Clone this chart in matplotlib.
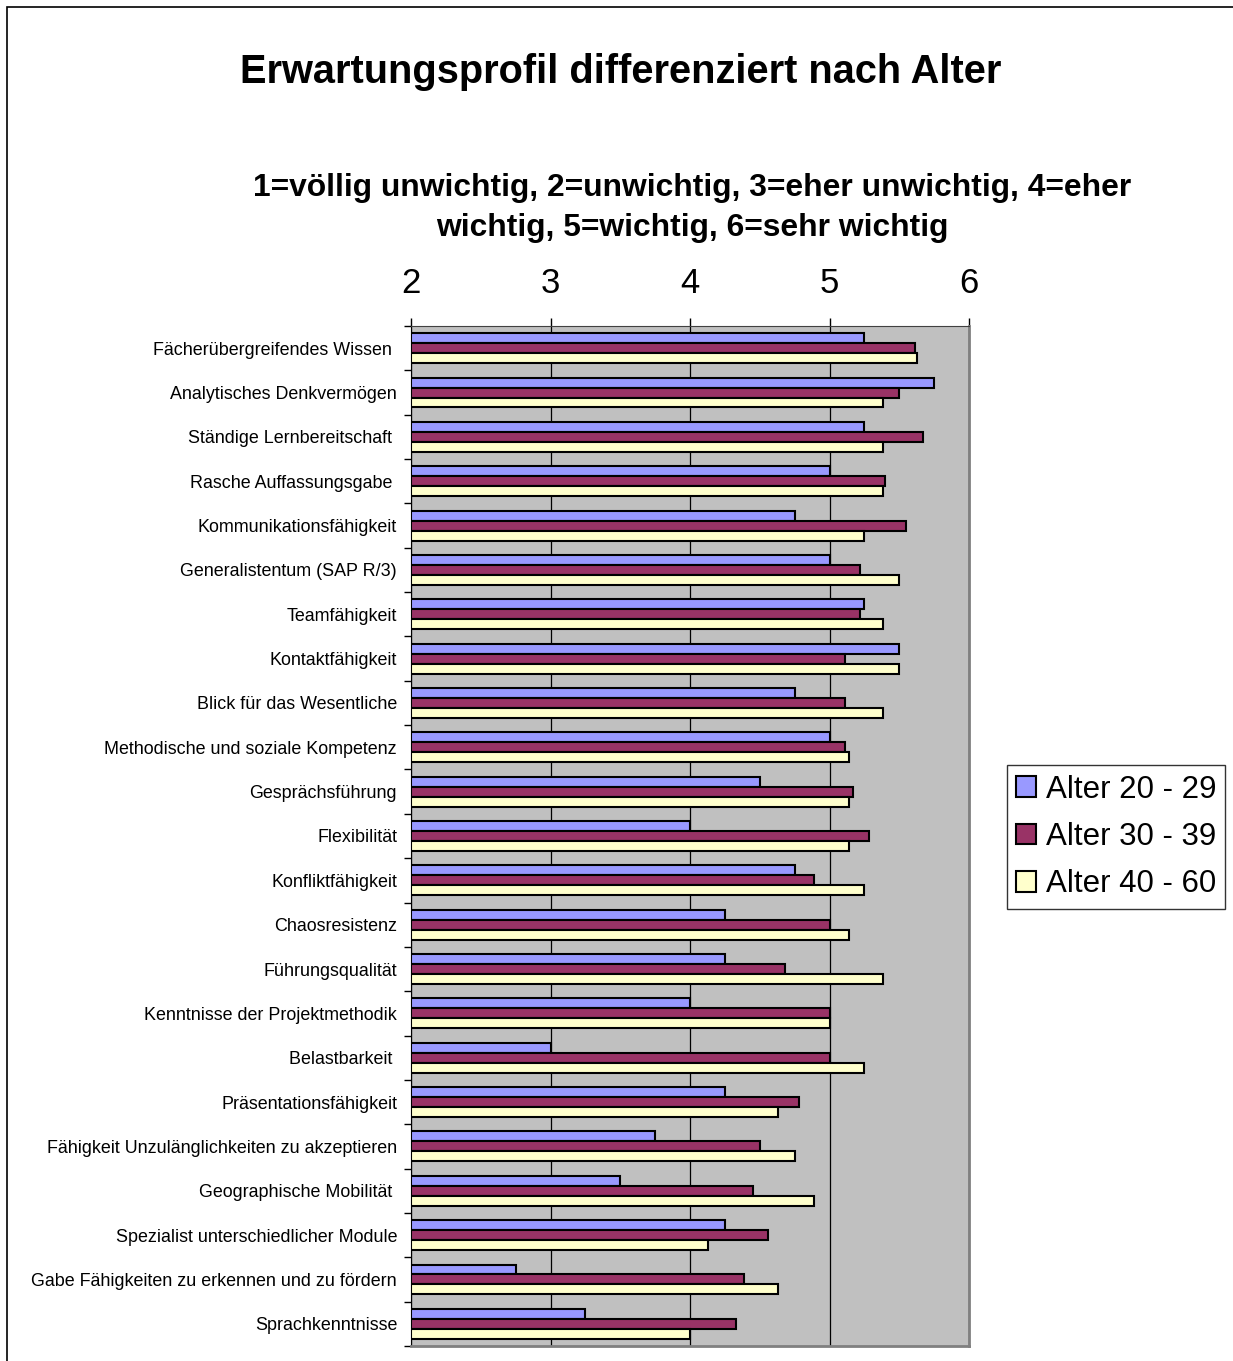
import numpy as np
import matplotlib
matplotlib.use("Agg")
import matplotlib.pyplot as plt
from matplotlib.patches import Rectangle, Patch

plt.rcParams["font.family"] = ["Liberation Sans", "DejaVu Sans"]

categories = [
    "Fächerübergreifendes Wissen ",
    "Analytisches Denkvermögen",
    "Ständige Lernbereitschaft ",
    "Rasche Auffassungsgabe ",
    "Kommunikationsfähigkeit",
    "Generalistentum (SAP R/3)",
    "Teamfähigkeit",
    "Kontaktfähigkeit",
    "Blick für das Wesentliche",
    "Methodische und soziale Kompetenz",
    "Gesprächsführung",
    "Flexibilität",
    "Konfliktfähigkeit",
    "Chaosresistenz",
    "Führungsqualität",
    "Kenntnisse der Projektmethodik",
    "Belastbarkeit ",
    "Präsentationsfähigkeit",
    "Fähigkeit Unzulänglichkeiten zu akzeptieren",
    "Geographische Mobilität ",
    "Spezialist unterschiedlicher Module",
    "Gabe Fähigkeiten zu erkennen und zu fördern",
    "Sprachkenntnisse",
]

alter_20_29 = [5.25, 5.75, 5.25, 5.00, 4.75, 5.00, 5.25, 5.50, 4.75, 5.00, 4.50, 4.00,
               4.75, 4.25, 4.25, 4.00, 3.00, 4.25, 3.75, 3.50, 4.25, 2.75, 3.25]
alter_30_39 = [5.61, 5.50, 5.67, 5.40, 5.55, 5.22, 5.22, 5.11, 5.11, 5.11, 5.17, 5.28,
               4.89, 5.00, 4.68, 5.00, 5.00, 4.78, 4.50, 4.45, 4.56, 4.39, 4.33]
alter_40_60 = [5.63, 5.38, 5.38, 5.38, 5.25, 5.50, 5.38, 5.50, 5.38, 5.14, 5.14, 5.14,
               5.25, 5.14, 5.38, 5.00, 5.25, 4.63, 4.75, 4.89, 4.13, 4.63, 4.00]

series = [("Alter 20 - 29", alter_20_29, "#9999FF"),
          ("Alter 30 - 39", alter_30_39, "#993366"),
          ("Alter 40 - 60", alter_40_60, "#FFFFCC")]

W, H = 1233, 1361
fig = plt.figure(figsize=(W / 100, H / 100), dpi=100)

# outer chart frame
fig.patches.append(Rectangle((7 / W, -0.1), 2.0, 1.1 - 7 / H, transform=fig.transFigure,
                             fill=False, edgecolor="black", linewidth=1.2))

ax = fig.add_axes([411 / W, 1 - 1346 / H, (969 - 411) / W, (1346 - 326) / H])
ax.set_facecolor("#C0C0C0")

y = np.arange(len(categories))
h = 0.225
base = 2.0
for i, (name, vals, col) in enumerate(series):
    ax.barh(y + (i - 1) * h, np.array(vals) - base, left=base, height=h,
            color=col, edgecolor="black", linewidth=1.5, label=name, zorder=3)

ax.set_xlim(2, 6)
ax.set_ylim(len(categories) - 0.5, -0.5)
ax.set_xticks([2, 3, 4, 5, 6])
ax.xaxis.tick_top()
ax.tick_params(axis="x", direction="out", length=6, width=1, labelsize=25, pad=13)
ax.grid(axis="x", color="black", linewidth=0.9, zorder=1)

ax.set_yticks(y)
ax.set_yticklabels(categories, fontsize=12.9)
ax.set_yticks(np.arange(len(categories) + 1) - 0.5, minor=True)
ax.tick_params(axis="y", which="major", length=0, pad=10)
ax.tick_params(axis="y", which="minor", direction="out", length=5, width=1)

ax.spines["left"].set_color("black")
ax.spines["top"].set_color("#404040")
ax.spines["right"].set_color("#808080")
ax.spines["right"].set_linewidth(2)
ax.spines["bottom"].set_color("#808080")
ax.spines["bottom"].set_linewidth(2)

fig.text(621 / W, 1 - 72 / H, "Erwartungsprofil differenziert nach Alter",
         ha="center", va="center", fontsize=28.6, fontweight="bold")
fig.text(692 / W, 1 - 208 / H,
         "1=völlig unwichtig, 2=unwichtig, 3=eher unwichtig, 4=eher\nwichtig, 5=wichtig, 6=sehr wichtig",
         ha="center", va="center", fontsize=22.9, fontweight="bold", linespacing=1.4)

handles = [Patch(facecolor=c, edgecolor="black", linewidth=1.5, label=n) for n, _, c in series]
leg = fig.legend(handles=handles, loc="center", bbox_to_anchor=(1116 / W, 1 - 837 / H),
                 fontsize=22.5, frameon=True, fancybox=False, handlelength=0.65, handleheight=0.65,
                 handletextpad=0.3, labelspacing=0.55, borderpad=0.3, borderaxespad=0)
leg.get_frame().set_edgecolor("black")
leg.get_frame().set_linewidth(1)

fig.savefig("out.png", dpi=100)
